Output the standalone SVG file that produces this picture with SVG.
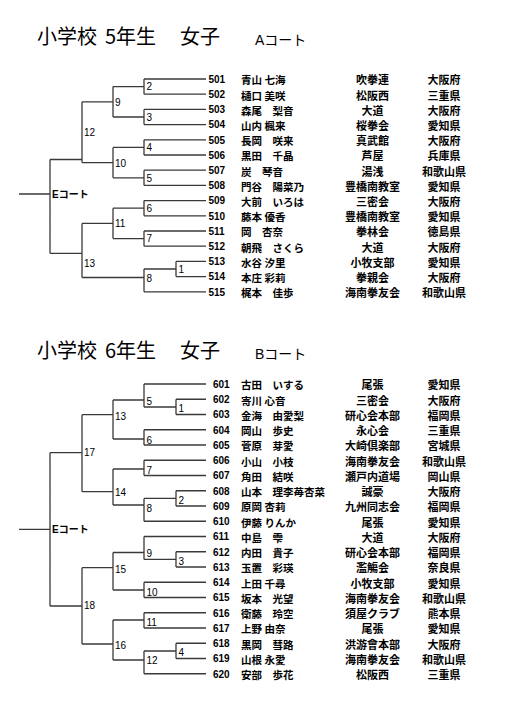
<svg xmlns="http://www.w3.org/2000/svg" width="505" height="708" viewBox="0 0 505 708">
<style>
text{fill:#000}
.ttl{font-family:"Noto Sans CJK JP",sans-serif;font-size:20px}
.crt{font-family:"Liberation Sans","Noto Sans CJK JP",sans-serif;font-size:14px}
.num{font-family:"Liberation Sans",sans-serif;font-size:10px;font-weight:bold}
.m{font-family:"Liberation Sans",sans-serif;font-size:10px}
.nm{font-family:"Noto Sans CJK JP",sans-serif;font-size:10.5px;font-weight:bold}
.cl{font-family:"Noto Sans CJK JP",sans-serif;font-size:11px;font-weight:bold;text-anchor:middle}
.pf{font-family:"Noto Sans CJK JP",sans-serif;font-size:11px;font-weight:bold;text-anchor:middle}
.ec{font-family:"Liberation Sans","Noto Sans CJK JP",sans-serif;font-size:10px;font-weight:bold}
.ln{fill:none;stroke:#3a3a3a;stroke-width:1.3}
</style>
<rect width="505" height="708" fill="#fff"/>
<g id="title-a">
<text class="ttl" y="44"><tspan x="37">小学校</tspan><tspan x="105">5年生</tspan><tspan x="180">女子</tspan></text>
<text class="crt" x="255" y="45">Aコート</text>
</g>
<g id="title-b">
<text class="ttl" y="358"><tspan x="37">小学校</tspan><tspan x="105">6年生</tspan><tspan x="180">女子</tspan></text>
<text class="crt" x="255" y="359">Bコート</text>
</g>
<g id="connectors">
<path class="ln" d="M144,79H206M144,94.2H206M144,109.4H206M144,124.6H206M144,139.8H206M144,155H206M144,170.2H206M144,185.4H206M144,200.6H206M144,215.8H206M144,231H206M144,246.2H206M176,261.4H206M176,276.6H206M144,291.8H206
M144,79V94.2M144,109.4V124.6M144,139.8V155M144,170.2V185.4M144,200.6V215.8M144,231V246.2M144,269V291.8M176,261.4V276.6M144,269H176
M113,86.6H144M113,117H144M113,147.4H144M113,177.8H144M113,208.2H144M113,238.6H144
M113,86.6V117M113,147.4V177.8M113,208.2V238.6
M82,101.8H113M82,162.6H113M82,223.4H113M82,277.5H144
M82,101.8V162.6M82,223.4V277.5
M50,159.5H82M50,253.3H82M50,159.5V253.3M19,194H50"/>
<path class="ln" d="M144,384H206M176,399.25H206M176,414.5H206M144,429.75H206M144,445H206M144,460.25H206M144,475.5H206M176,490.75H206M176,506H206M144,521.25H206
M144,536.5H206M176,551.75H206M176,567H206M144,582.25H206M144,597.5H206M144,612.75H206M144,628H206M176,643.25H206M176,658.5H206M144,673.75H206
M176,399.25V414.5M176,490.75V506M176,551.75V567M176,643.25V658.5
M144,407H176M144,498.4H176M144,559.4H176M144,651H176
M144,384V407M144,429.75V445M144,460.25V475.5M144,498.4V521.25M144,536.5V559.4M144,582.25V597.5M144,612.75V628M144,651V673.75
M113,400H144M113,439H144M113,469H144M113,505H144M113,552.5H144M113,590H144M113,620H144M113,660H144
M113,400V439M113,469V505M113,552.5V590M113,620V660
M82,414.7H113M82,491.7H113M82,567.7H113M82,644H113
M82,414.7V491.7M82,567.7V644
M50,452.7H82M50,606H82M50,452.7V606M19,529.3H50"/>
</g>
<g id="matches-a">
<g id="a-m1"><text class="m" x="178.5" y="273">1</text></g>
<g id="a-m2"><text class="m" x="146.5" y="90.2">2</text></g>
<g id="a-m3"><text class="m" x="146.5" y="120.6">3</text></g>
<g id="a-m4"><text class="m" x="146.5" y="151">4</text></g>
<g id="a-m5"><text class="m" x="146.5" y="181.6">5</text></g>
<g id="a-m6"><text class="m" x="146.5" y="211.9">6</text></g>
<g id="a-m7"><text class="m" x="146.5" y="242.1">7</text></g>
<g id="a-m8"><text class="m" x="146.5" y="282">8</text></g>
<g id="a-m9"><text class="m" x="115" y="105.6">9</text></g>
<g id="a-m10"><text class="m" x="115" y="166.6">10</text></g>
<g id="a-m11"><text class="m" x="115" y="226.6">11</text></g>
<g id="a-m12"><text class="m" x="84" y="136.3">12</text></g>
<g id="a-m13"><text class="m" x="84" y="267">13</text></g>
<g id="a-e"><text class="ec" x="52" y="197.6">Eコート</text></g>
</g>
<g id="matches-b">
<g id="b-m1"><text class="m" x="178.5" y="411.6">1</text></g>
<g id="b-m2"><text class="m" x="178.5" y="503.6">2</text></g>
<g id="b-m3"><text class="m" x="178.5" y="564.6">3</text></g>
<g id="b-m4"><text class="m" x="178.5" y="656.3">4</text></g>
<g id="b-m5"><text class="m" x="146.5" y="404.6">5</text></g>
<g id="b-m6"><text class="m" x="146.5" y="443.6">6</text></g>
<g id="b-m7"><text class="m" x="146.5" y="473.6">7</text></g>
<g id="b-m8"><text class="m" x="146.5" y="511.9">8</text></g>
<g id="b-m9"><text class="m" x="146.5" y="556.6">9</text></g>
<g id="b-m10"><text class="m" x="146.5" y="596.3">10</text></g>
<g id="b-m11"><text class="m" x="146.5" y="625.6">11</text></g>
<g id="b-m12"><text class="m" x="146.5" y="664.3">12</text></g>
<g id="b-m13"><text class="m" x="115" y="420.3">13</text></g>
<g id="b-m14"><text class="m" x="115" y="496.3">14</text></g>
<g id="b-m15"><text class="m" x="115" y="572.9">15</text></g>
<g id="b-m16"><text class="m" x="115" y="648.6">16</text></g>
<g id="b-m17"><text class="m" x="84" y="456.3">17</text></g>
<g id="b-m18"><text class="m" x="84" y="608.9">18</text></g>
<g id="b-e"><text class="ec" x="52" y="532.9">Eコート</text></g>
</g>
<g id="entries-a">
<g id="e501"><text class="num" x="208.5" y="82.8">501</text><text class="nm" x="241" y="84.3">青山 七海</text><text class="cl" x="372.5" y="84.3">吹拳連</text><text class="pf" x="444" y="84.3">大阪府</text></g>
<g id="e502"><text class="num" x="208.5" y="98">502</text><text class="nm" x="241" y="99.5">樋口 美咲</text><text class="cl" x="372.5" y="99.5">松阪西</text><text class="pf" x="444" y="99.5">三重県</text></g>
<g id="e503"><text class="num" x="208.5" y="113.2">503</text><text class="nm" x="241" y="114.7">森尾　梨音</text><text class="cl" x="372.5" y="114.7">大道</text><text class="pf" x="444" y="114.7">大阪府</text></g>
<g id="e504"><text class="num" x="208.5" y="128.4">504</text><text class="nm" x="241" y="129.9">山内 楓来</text><text class="cl" x="372.5" y="129.9">桜拳会</text><text class="pf" x="444" y="129.9">愛知県</text></g>
<g id="e505"><text class="num" x="208.5" y="143.6">505</text><text class="nm" x="241" y="145.1">長岡　咲来</text><text class="cl" x="372.5" y="145.1">真武館</text><text class="pf" x="444" y="145.1">大阪府</text></g>
<g id="e506"><text class="num" x="208.5" y="158.8">506</text><text class="nm" x="241" y="160.3">黒田　千晶</text><text class="cl" x="372.5" y="160.3">芦屋</text><text class="pf" x="444" y="160.3">兵庫県</text></g>
<g id="e507"><text class="num" x="208.5" y="174">507</text><text class="nm" x="241" y="175.5">炭　琴音</text><text class="cl" x="372.5" y="175.5">湯浅</text><text class="pf" x="444" y="175.5">和歌山県</text></g>
<g id="e508"><text class="num" x="208.5" y="189.2">508</text><text class="nm" x="241" y="190.7">門谷　陽菜乃</text><text class="cl" x="372.5" y="190.7">豊橋南教室</text><text class="pf" x="444" y="190.7">愛知県</text></g>
<g id="e509"><text class="num" x="208.5" y="204.4">509</text><text class="nm" x="241" y="205.9">大前　いろは</text><text class="cl" x="372.5" y="205.9">三密会</text><text class="pf" x="444" y="205.9">大阪府</text></g>
<g id="e510"><text class="num" x="208.5" y="219.6">510</text><text class="nm" x="241" y="221.1">藤本 優香</text><text class="cl" x="372.5" y="221.1">豊橋南教室</text><text class="pf" x="444" y="221.1">愛知県</text></g>
<g id="e511"><text class="num" x="208.5" y="234.8">511</text><text class="nm" x="241" y="236.3">岡　杏奈</text><text class="cl" x="372.5" y="236.3">拳林会</text><text class="pf" x="444" y="236.3">徳島県</text></g>
<g id="e512"><text class="num" x="208.5" y="250">512</text><text class="nm" x="241" y="251.5">朝飛　さくら</text><text class="cl" x="372.5" y="251.5">大道</text><text class="pf" x="444" y="251.5">大阪府</text></g>
<g id="e513"><text class="num" x="208.5" y="265.2">513</text><text class="nm" x="241" y="266.7">水谷 汐里</text><text class="cl" x="372.5" y="266.7">小牧支部</text><text class="pf" x="444" y="266.7">愛知県</text></g>
<g id="e514"><text class="num" x="208.5" y="280.4">514</text><text class="nm" x="241" y="281.9">本庄 彩莉</text><text class="cl" x="372.5" y="281.9">拳親会</text><text class="pf" x="444" y="281.9">大阪府</text></g>
<g id="e515"><text class="num" x="208.5" y="295.6">515</text><text class="nm" x="241" y="297.1">梶本　佳歩</text><text class="cl" x="372.5" y="297.1">海南拳友会</text><text class="pf" x="444" y="297.1">和歌山県</text></g>
</g>
<g id="entries-b">
<g id="e601"><text class="num" x="213" y="387.8">601</text><text class="nm" x="241" y="389.3">古田　いする</text><text class="cl" x="372.5" y="389.3">尾張</text><text class="pf" x="444" y="389.3">愛知県</text></g>
<g id="e602"><text class="num" x="213" y="403.05">602</text><text class="nm" x="241" y="404.55">寄川 心音</text><text class="cl" x="372.5" y="404.55">三密会</text><text class="pf" x="444" y="404.55">大阪府</text></g>
<g id="e603"><text class="num" x="213" y="418.3">603</text><text class="nm" x="241" y="419.8">金海　由愛梨</text><text class="cl" x="372.5" y="419.8">研心会本部</text><text class="pf" x="444" y="419.8">福岡県</text></g>
<g id="e604"><text class="num" x="213" y="433.55">604</text><text class="nm" x="241" y="435.05">岡山　歩史</text><text class="cl" x="372.5" y="435.05">永心会</text><text class="pf" x="444" y="435.05">三重県</text></g>
<g id="e605"><text class="num" x="213" y="448.8">605</text><text class="nm" x="241" y="450.3">菅原　芽愛</text><text class="cl" x="372.5" y="450.3">大崎倶楽部</text><text class="pf" x="444" y="450.3">宮城県</text></g>
<g id="e606"><text class="num" x="213" y="464.05">606</text><text class="nm" x="241" y="465.55">小山　小枝</text><text class="cl" x="372.5" y="465.55">海南拳友会</text><text class="pf" x="444" y="465.55">和歌山県</text></g>
<g id="e607"><text class="num" x="213" y="479.3">607</text><text class="nm" x="241" y="480.8">角田　結咲</text><text class="cl" x="372.5" y="480.8">瀬戸内道場</text><text class="pf" x="444" y="480.8">岡山県</text></g>
<g id="e608"><text class="num" x="213" y="494.55">608</text><text class="nm" x="241" y="496.05">山本　理李苺杏菜</text><text class="cl" x="372.5" y="496.05">誠豪</text><text class="pf" x="444" y="496.05">大阪府</text></g>
<g id="e609"><text class="num" x="213" y="509.8">609</text><text class="nm" x="241" y="511.3">原岡 杏莉</text><text class="cl" x="372.5" y="511.3">九州同志会</text><text class="pf" x="444" y="511.3">福岡県</text></g>
<g id="e610"><text class="num" x="213" y="525.05">610</text><text class="nm" x="241" y="526.55">伊藤 りんか</text><text class="cl" x="372.5" y="526.55">尾張</text><text class="pf" x="444" y="526.55">愛知県</text></g>
<g id="e611"><text class="num" x="213" y="540.3">611</text><text class="nm" x="241" y="541.8">中島　雫</text><text class="cl" x="372.5" y="541.8">大道</text><text class="pf" x="444" y="541.8">大阪府</text></g>
<g id="e612"><text class="num" x="213" y="555.55">612</text><text class="nm" x="241" y="557.05">内田　貴子</text><text class="cl" x="372.5" y="557.05">研心会本部</text><text class="pf" x="444" y="557.05">福岡県</text></g>
<g id="e613"><text class="num" x="213" y="570.8">613</text><text class="nm" x="241" y="572.3">玉置　彩瑛</text><text class="cl" x="372.5" y="572.3">濫觴会</text><text class="pf" x="444" y="572.3">奈良県</text></g>
<g id="e614"><text class="num" x="213" y="586.05">614</text><text class="nm" x="241" y="587.55">上田 千尋</text><text class="cl" x="372.5" y="587.55">小牧支部</text><text class="pf" x="444" y="587.55">愛知県</text></g>
<g id="e615"><text class="num" x="213" y="601.3">615</text><text class="nm" x="241" y="602.8">坂本　光望</text><text class="cl" x="372.5" y="602.8">海南拳友会</text><text class="pf" x="444" y="602.8">和歌山県</text></g>
<g id="e616"><text class="num" x="213" y="616.55">616</text><text class="nm" x="241" y="618.05">衛藤　玲空</text><text class="cl" x="372.5" y="618.05">須屋クラブ</text><text class="pf" x="444" y="618.05">熊本県</text></g>
<g id="e617"><text class="num" x="213" y="631.8">617</text><text class="nm" x="241" y="633.3">上野 由奈</text><text class="cl" x="372.5" y="633.3">尾張</text><text class="pf" x="444" y="633.3">愛知県</text></g>
<g id="e618"><text class="num" x="213" y="647.05">618</text><text class="nm" x="241" y="648.55">黒岡　彗路</text><text class="cl" x="372.5" y="648.55">洪游會本部</text><text class="pf" x="444" y="648.55">大阪府</text></g>
<g id="e619"><text class="num" x="213" y="662.3">619</text><text class="nm" x="241" y="663.8">山根 永愛</text><text class="cl" x="372.5" y="663.8">海南拳友会</text><text class="pf" x="444" y="663.8">和歌山県</text></g>
<g id="e620"><text class="num" x="213" y="677.55">620</text><text class="nm" x="241" y="679.05">安部　歩花</text><text class="cl" x="372.5" y="679.05">松阪西</text><text class="pf" x="444" y="679.05">三重県</text></g>
</g>
</svg>
